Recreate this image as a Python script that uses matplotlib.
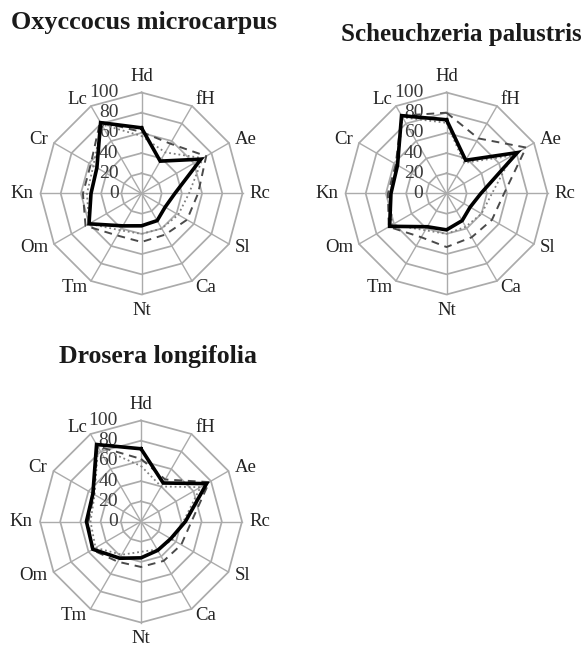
import numpy as np
import matplotlib
matplotlib.use("Agg")
import matplotlib.pyplot as plt
from matplotlib.transforms import ScaledTranslation

categories = ['Hd', 'fH', 'Ae', 'Rc', 'Sl', 'Ca', 'Nt', 'Tm', 'Om', 'Kn', 'Cr', 'Lc']
ticks = [0, 20, 40, 60, 80, 100]

titles = ['Oxyccocus microcarpus', 'Scheuchzeria palustris', 'Drosera longifolia']

oxy_solid = [65, 37, 68, 33, 27, 31, 32, 37, 60, 50, 51, 81]
oxy_dashed = [61, 57, 74, 56, 52, 47, 48, 48, 64, 58, 58, 82]
oxy_dotted = [57, 47, 70, 47, 42, 40, 40, 42, 60, 54, 55, 79]

sch_solid = [73, 38, 81, 34, 27, 31, 36, 38, 65, 55, 56, 89]
sch_dashed = [80, 63, 91, 57, 52, 50, 53, 50, 66, 58, 58, 89]
sch_dotted = [70, 35, 75, 45, 40, 38, 40, 42, 62, 56, 56, 87]

dro_solid = [72, 44, 75, 44, 34, 33, 36, 42, 55, 54, 55, 88]
dro_dashed = [62, 48, 78, 50, 46, 45, 45, 46, 56, 52, 54, 86]
dro_dotted = [55, 40, 68, 42, 36, 32, 30, 38, 52, 50, 53, 85]

W, H = 586, 647
DPI = 100
fig = plt.figure(figsize=(W / DPI, H / DPI), dpi=DPI)
fig.patch.set_facecolor('white')

SERIF = ['Liberation Serif', 'DejaVu Serif']
GRID = '#ababab'


def radar(cx, cy, rad, title, tx, ty, tsize, solid, dashed, dotted):
    ax = fig.add_axes([(cx - rad) / W, (H - cy - rad) / H, 2 * rad / W, 2 * rad / H],
                      projection='polar')
    ax.set_theta_zero_location('N')
    ax.set_theta_direction(-1)
    ax.set_ylim(0, ticks[-1])
    ax.set_xticks([])
    ax.set_yticks([])
    ax.grid(False)
    ax.spines['polar'].set_visible(False)
    ax.patch.set_alpha(0)

    n = len(categories)
    ang = np.arange(n) * 2 * np.pi / n
    angc = np.append(ang, ang[0])

    for t in ticks[1:]:
        ax.plot(angc, [t] * (n + 1), color=GRID, lw=1.25, clip_on=False, zorder=1)
    for a in ang:
        ax.plot([a, a], [0, ticks[-1]], color=GRID, lw=1.0, clip_on=False, zorder=1)

    # value labels
    trans = ax.transData + ScaledTranslation(-0.23, 0, fig.dpi_scale_trans)
    for t in ticks:
        ax.text(0, t, str(t), transform=trans, ha='right', va='center',
                fontsize=14, family=SERIF, color='#3a3a3a', zorder=2)

    # category labels, anchored outside the outer ring
    for a, c in zip(ang, categories):
        s, co = np.sin(a), np.cos(a)
        if s > 0.01:
            ha, va = 'left', 'center'
        elif s < -0.01:
            ha, va = 'right', 'center'
        else:
            ha, va = 'center', ('bottom' if co > 0 else 'top')
        ax.text(a, 107, c, ha=ha, va=va, fontsize=13.5,
                family=SERIF, color='#222222')

    ax.plot(angc, dotted + dotted[:1], color='#808080', lw=1.3,
            linestyle=(0, (1, 1.6)), clip_on=False, zorder=3)
    ax.plot(angc, dashed + dashed[:1], color='#4a4a4a', lw=1.4,
            linestyle=(0, (4, 3)), clip_on=False, zorder=4)
    ax.plot(angc, solid + solid[:1], color='black', lw=2.6,
            solid_joinstyle='miter', clip_on=False, zorder=5)

    fig.text(tx / W, 1 - ty / H, title, ha='center', va='center',
             fontsize=tsize, fontweight='bold', family=SERIF, color='#1a1a1a')


radar(141.5, 193.5, 101, titles[0], 144, 23, 18.8, oxy_solid, oxy_dashed, oxy_dotted)
radar(446.5, 193.5, 101, titles[1], 461, 35, 18, sch_solid, sch_dashed, sch_dotted)
radar(141.0, 521.5, 101, titles[2], 158, 356, 18.5, dro_solid, dro_dashed, dro_dotted)

fig.savefig('out.png', dpi=DPI, facecolor='white')
